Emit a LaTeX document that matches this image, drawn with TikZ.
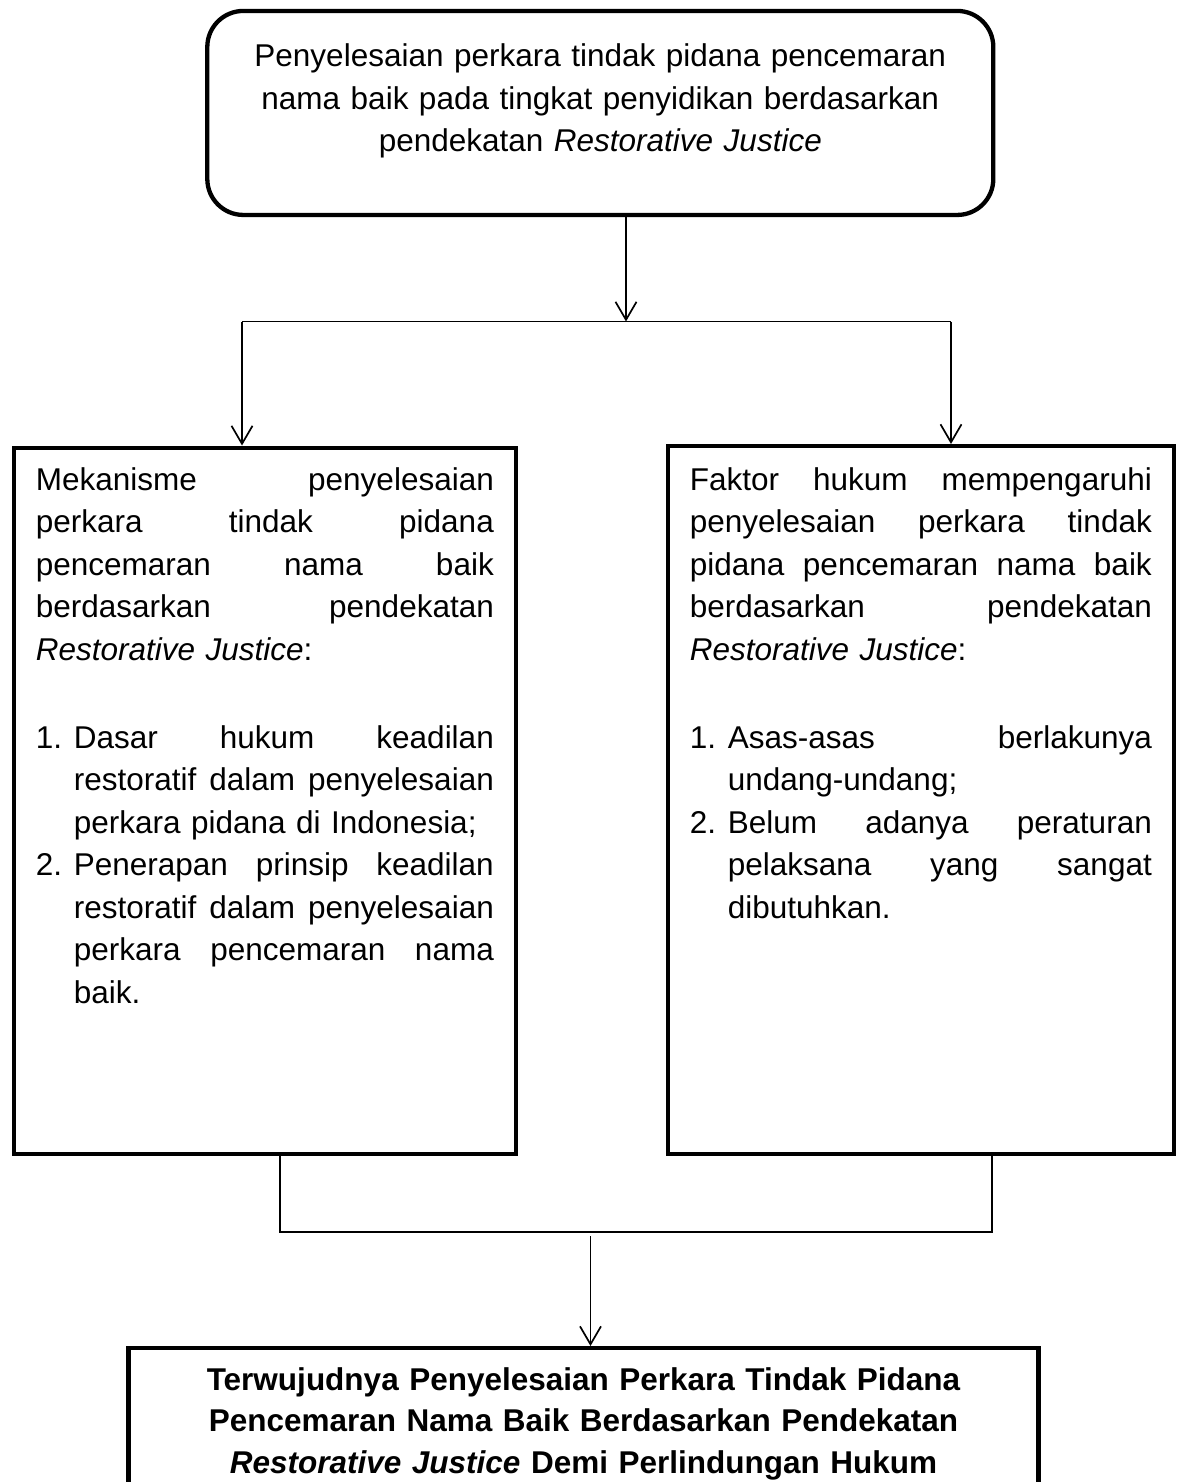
\documentclass[tikz,border=0pt]{standalone}
\usepackage{fontspec}
\setmainfont{Liberation Sans}
\usetikzlibrary{arrows.meta}
\newcommand{\gaps}{\spaceskip=.3333em plus .3333em minus .1em\relax}
\newcommand{\jl}[1]{\makebox[\linewidth][s]{\gaps#1}}
\newcommand{\numl}[3][s]{\makebox[19pt][l]{#2}\makebox[\dimexpr\linewidth-19pt\relax][#1]{\gaps#3}}
\tikzset{
  box/.style={draw, line width=2.15pt, inner ysep=0pt, inner xsep=11pt,
    font=\fontsize{15.75}{21.25}\selectfont},
  link/.style={line width=0.85pt},
  arr/.style={link, -{Straight Barb[length=9pt,width=10.5pt]}}
}

\begin{document}
\begin{tikzpicture}[x=0.5pt,y=-0.5pt]
	\useasboundingbox (0,0) rectangle (1181,1482);
	% boxes
	\node[box, rounded corners=18pt, anchor=north, inner xsep=10pt, text width=373pt,
	align=center, text height=28pt, text depth=74pt] (case) at (600.3,8.8)
	{Penyelesaian perkara tindak pidana pencemaran\\
		nama baik pada tingkat penyidikan berdasarkan\\
		pendekatan \textit{Restorative Justice}};
	
	\node[box, anchor=north west, text width=229pt, align=left,
	text height=21.25pt, text depth=331.75pt] (mech) at (11.7,445.5)
	{\jl{Mekanisme penyelesaian}\\
		\jl{perkara tindak pidana}\\
		\jl{pencemaran nama baik}\\
		\jl{berdasarkan pendekatan}\\
		\textit{Restorative Justice}:\\[22.75pt]
		\numl{1.}{Dasar hukum keadilan}\\
		\numl{}{restoratif dalam penyelesaian}\\
		\numl[l]{}{perkara pidana di Indonesia;}\\
		\numl{2.}{Penerapan prinsip keadilan}\\
		\numl{}{restoratif dalam penyelesaian}\\
		\numl{}{perkara pencemaran nama}\\
		\numl[l]{}{baik.}};
	
	\node[box, anchor=north west, text width=231pt, align=left,
	text height=22pt, text depth=331.75pt] (factor) at (665.7,444)
	{\jl{Faktor hukum mempengaruhi}\\
		\jl{penyelesaian perkara tindak}\\
		\jl{pidana pencemaran nama baik}\\
		\jl{berdasarkan pendekatan}\\
		\textit{Restorative Justice}:\\[22.75pt]
		\numl{1.}{Asas-asas berlakunya}\\
		\numl[l]{}{undang-undang;}\\
		\numl{2.}{Belum adanya peraturan}\\
		\numl{}{pelaksana yang sangat}\\
		\numl[l]{}{dibutuhkan.}};
	
	\node[box, anchor=north, inner xsep=10pt, text width=435pt, align=center,
	font=\fontsize{15.75}{20.85}\selectfont\bfseries,
	text height=21pt, text depth=120pt] (result) at (583.5,1346)
	{Terwujudnya Penyelesaian Perkara Tindak Pidana\\
		Pencemaran Nama Baik Berdasarkan Pendekatan\\
		\textit{Restorative Justice} Demi Perlindungan Hukum};
	
	% connectors
	\coordinate (split) at (626,321.5);
	\coordinate (splitL) at (242,321.5);
	\coordinate (splitR) at (951,321.5);
	\draw[arr] (case.south -| split) -- (split);
	\draw[link] (splitL) -- (splitR);
	\draw[arr] (splitL) -- (mech.north -| splitL);
	\draw[arr] (splitR) -- (factor.north -| splitR);
	
	\coordinate (joinL) at (280,1231.7);
	\coordinate (joinR) at (992.3,1231.7);
	\coordinate (join) at (590.5,1236);
	\draw[link] (mech.south -| joinL) -- (joinL) -- (joinR) -- (factor.south -| joinR);
	\draw[arr] (join) -- (result.north -| join);
\end{tikzpicture}
\end{document}
